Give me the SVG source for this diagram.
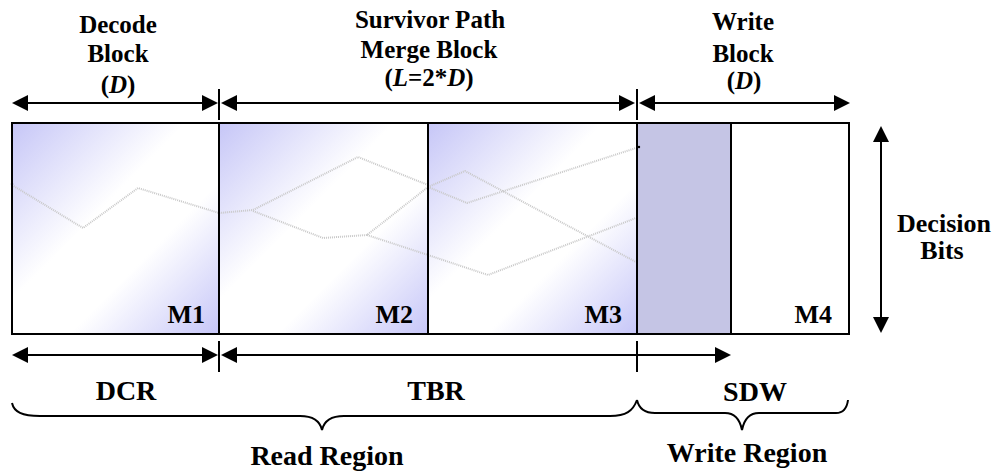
<svg xmlns="http://www.w3.org/2000/svg" width="1002" height="473" viewBox="0 0 1002 473">
  <style>
    text { font-family: "Liberation Serif", "Times New Roman", serif; font-weight: bold; fill: #000; text-anchor: middle; }
    .top { font-size: 25px; }
    .mem { font-size: 26px; text-anchor: end; }
    .lab { font-size: 28px; }
    .side { font-size: 26px; }
    .frame { fill: none; stroke: #000; stroke-width: 2; }
    .arr { fill: none; stroke: #000; stroke-width: 2; marker-start: url(#ah); marker-end: url(#ah); }
    .tick { stroke: #000; stroke-width: 2; }
    .path { fill: none; stroke: #c8c8c8; stroke-width: 2; stroke-dasharray: 1 1; }
    .brace { fill: none; stroke: #000; stroke-width: 2; }
  </style>
  <defs>
    <linearGradient id="blk" x1="0" y1="0" x2="1" y2="1">
      <stop offset="0" stop-color="#c6c6f7"/>
      <stop offset="0.42" stop-color="#ffffff"/>
      <stop offset="0.64" stop-color="#ffffff"/>
      <stop offset="1" stop-color="#c6c6f8"/>
    </linearGradient>
    <marker id="ah" viewBox="0 0 16 16" refX="13" refY="8" markerWidth="16" markerHeight="16" markerUnits="userSpaceOnUse" orient="auto-start-reverse">
      <path d="M0,0 L16,8 L0,16 z" fill="#000"/>
    </marker>
  </defs>

  <!-- top labels -->
  <g id="decode-label">
    <text class="top" x="118" y="33">Decode</text>
    <text class="top" x="118" y="62">Block</text>
    <text class="top" x="118" y="93">(<tspan font-style="italic">D</tspan>)</text>
  </g>
  <g id="merge-label">
    <text class="top" x="430" y="28">Survivor Path</text>
    <text class="top" x="429" y="58">Merge Block</text>
    <text class="top" x="429" y="86">(<tspan font-style="italic">L</tspan>=2*<tspan font-style="italic">D</tspan>)</text>
  </g>
  <g id="write-label">
    <text class="top" x="743" y="30">Write</text>
    <text class="top" x="743" y="62">Block</text>
    <text class="top" x="744" y="89">(<tspan font-style="italic">D</tspan>)</text>
  </g>

  <!-- memory blocks -->
  <g id="M1">
    <rect x="12" y="123" width="207" height="211" fill="url(#blk)"/>
    <text class="mem" x="205" y="323">M1</text>
  </g>
  <g id="M2">
    <rect x="219" y="123" width="209" height="211" fill="url(#blk)"/>
    <text class="mem" x="413" y="323">M2</text>
  </g>
  <g id="M3">
    <rect x="428" y="123" width="209" height="211" fill="url(#blk)"/>
    <text class="mem" x="622" y="323">M3</text>
  </g>
  <g id="M4">
    <rect x="637" y="123" width="94" height="211" fill="#c5c5e5"/>
    <rect x="731" y="123" width="118" height="211" fill="#fff"/>
    <text class="mem" x="832" y="323">M4</text>
  </g>

  <!-- survivor paths through the trellis -->
  <g id="trellis">
    <polyline class="path" points="12,185 83,228 138,188 219,213 253,210 358,157 428,185"/>
    <polyline class="path" points="253,211 323,238 367,235 428,187"/>
    <polyline class="path" points="367,235 428,255"/>
    <polyline class="path" points="428,187 465,171 636,262"/>
    <polyline class="path" points="428,187 467,203 636,148"/>
    <polyline class="path" points="428,255 488,275 636,218"/>
    <circle cx="12" cy="184" r="1.2" fill="#000"/>
    <circle cx="639" cy="147" r="1.2" fill="#000"/>
  </g>

  <!-- block outlines -->
  <g id="outline">
    <rect class="frame" x="12" y="123" width="837" height="211"/>
    <line class="tick" x1="219" y1="123" x2="219" y2="334"/>
    <line class="tick" x1="428" y1="123" x2="428" y2="334"/>
    <line class="tick" x1="637" y1="123" x2="637" y2="334"/>
    <line class="tick" x1="731" y1="123" x2="731" y2="334"/>
  </g>

  <!-- dimension arrows -->
  <g id="connectors">
    <line class="arr" x1="15" y1="103" x2="215" y2="103"/>
    <line class="arr" x1="224" y1="103" x2="632" y2="103"/>
    <line class="arr" x1="642" y1="103" x2="847" y2="103"/>
    <line class="tick" x1="219" y1="89" x2="219" y2="120"/>
    <line class="tick" x1="637" y1="89" x2="637" y2="120"/>

    <line class="arr" x1="15" y1="355" x2="215" y2="355"/>
    <line class="arr" x1="224" y1="355" x2="728" y2="355"/>
    <line class="tick" x1="219" y1="341" x2="219" y2="372"/>
    <line class="tick" x1="637" y1="341" x2="637" y2="372"/>

    <line class="arr" x1="881" y1="129" x2="881" y2="330"/>
  </g>

  <g id="decision-label">
    <text class="side" x="944" y="232">Decision</text>
    <text class="side" x="942" y="259">Bits</text>
  </g>

  <g id="region-labels">
    <text class="lab" x="126" y="400">DCR</text>
    <text class="lab" x="436" y="400">TBR</text>
    <text class="lab" x="755" y="401">SDW</text>
  </g>

  <!-- region braces -->
  <g id="read-region">
    <path class="brace" d="M12,403 C14,412 22,416 40,416 L300,416 C313,416 320,421 322,430 C324,421 331,416 344,416 L610,416 C626,416 633,411 637,400"/>
    <text class="lab" x="327" y="465">Read Region</text>
  </g>
  <g id="write-region">
    <path class="brace" d="M637,400 C639,409 645,413 655,413 L725,413 C735,413 740,420 742,430 C744,420 749,413 759,413 L836,413 C843,413 847,408 848,400"/>
    <text class="lab" x="747" y="462">Write Region</text>
  </g>
</svg>
